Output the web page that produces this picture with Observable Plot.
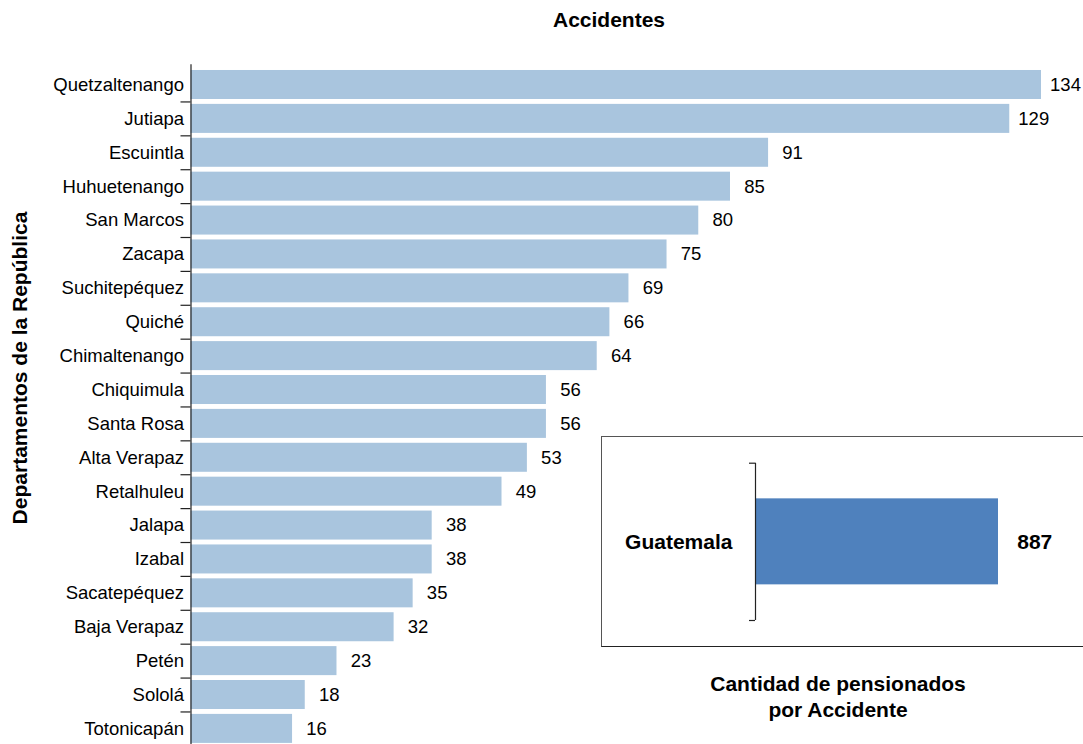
<!DOCTYPE html>
<html>
<head>
<meta charset="utf-8">
<script src="https://cdn.jsdelivr.net/npm/d3@7"></script>
<script src="https://cdn.jsdelivr.net/npm/@observablehq/plot@0.6"></script>
<style>
  html, body { margin: 0; padding: 0; overflow: hidden; background: #fff; }
  #wrap { position: relative; width: 1083px; height: 744px; overflow: hidden; font-family: "Liberation Sans", Arial, Helvetica, sans-serif; color: #000; }
  .abs { position: absolute; }
  #title { left: 0; width: 1218px; top: 7px; text-align: center; font-weight: bold; font-size: 21px; line-height: 26px; }
  #ylabel { left: 20px; top: 368px; transform: translate(-50%, -50%) rotate(-90deg); white-space: nowrap; font-weight: bold; font-size: 21px; }
  #box { left: 600.5px; top: 435.5px; width: 500px; height: 209px; border: 1.5px solid #555; border-bottom-color: #222; }
  #inset { left: 601px; top: 436px; }
  #caption { left: 838px; top: 671px; transform: translateX(-50%); text-align: center; white-space: nowrap; font-weight: bold; font-size: 21px; line-height: 26px; }
</style>
</head>
<body>
<div id="wrap">
  <div id="main" class="abs" style="left:0;top:0"></div>
  <div id="title" class="abs">Accidentes</div>
  <div id="ylabel" class="abs">Departamentos de la República</div>
  <div id="box" class="abs"></div>
  <div id="inset" class="abs"></div>
  <div id="caption" class="abs">Cantidad de pensionados<br>por Accidente</div>
</div>
<script>
const departamentos = ["Quetzaltenango","Jutiapa","Escuintla","Huhuetenango","San Marcos","Zacapa","Suchitepéquez","Quiché","Chimaltenango","Chiquimula","Santa Rosa","Alta Verapaz","Retalhuleu","Jalapa","Izabal","Sacatepéquez","Baja Verapaz","Petén","Sololá","Totonicapán"];
const accidentes = [134,129,91,85,80,75,69,66,64,56,56,53,49,38,38,35,32,23,18,16];
const totalLabel = ["Guatemala"];
const totalValue = [887];

const rows = departamentos.map((d, i) => ({dep: d, val: accidentes[i]}));
const totalRows = totalLabel.map((d, i) => ({name: d, val: totalValue[i]}));

const font = "Liberation Sans, Arial, Helvetica, sans-serif";
const step = 33.89;

const main = Plot.plot({
  width: 1083,
  height: 749,
  marginLeft: 190.5,
  marginRight: 0,
  marginTop: 64.3,
  marginBottom: 0,
  style: {fontFamily: font, fontSize: "18.5px", color: "#000", background: "transparent"},
  x: {domain: [0, 134], range: [190.5, 1041], axis: null},
  y: {domain: departamentos, range: [64.3, 748.6], paddingInner: 0.144, paddingOuter: 0.168, round: false, axis: null},
  marks: [
    Plot.barX(rows, {y: "dep", x: "val", fill: "#a9c5de"}),
    Plot.text(rows, {y: "dep", x: "val", text: d => String(d.val), textAnchor: "middle", dx: 24, fontSize: 18.5, fill: "#000"}),
    Plot.ruleX([0], {stroke: "#222", strokeWidth: 1.2}),
    Plot.axisY({tickSize: 10, text: null, label: null, dy: step / 2, stroke: "#222", strokeWidth: 1.2}),
    Plot.axisY({tickSize: 0, tickPadding: 7, fontSize: 18.5, fill: "#000", label: null})
  ]
});
document.getElementById("main").appendChild(main);

const inset = Plot.plot({
  width: 482,
  height: 210,
  marginLeft: 154,
  marginRight: 85,
  marginTop: 26.7,
  marginBottom: 26,
  style: {fontFamily: font, color: "#000", background: "transparent"},
  x: {domain: [0, 887], axis: null},
  y: {domain: totalLabel, padding: 0.293, round: false, axis: null},
  marks: [
    Plot.barX(totalRows, {y: "name", x: "val", fill: "#4f81bd"}),
    Plot.ruleX([0], {stroke: "#222", strokeWidth: 1.2}),
    Plot.axisY({tickSize: 6, text: null, label: null, dy: -78.65, stroke: "#222", strokeWidth: 1.2}),
    Plot.axisY({tickSize: 6, text: null, label: null, dy: 78.65, stroke: "#222", strokeWidth: 1.2}),
    Plot.text(totalRows, {y: "name", x: 0, text: "name", textAnchor: "end", dx: -23, fontSize: 21, fontWeight: "bold", fill: "#000"}),
    Plot.text(totalRows, {y: "name", x: "val", text: d => String(d.val), textAnchor: "start", dx: 18.7, fontSize: 21, fontWeight: "bold", fill: "#000"})
  ]
});
document.getElementById("inset").appendChild(inset);
</script>
</body>
</html>
